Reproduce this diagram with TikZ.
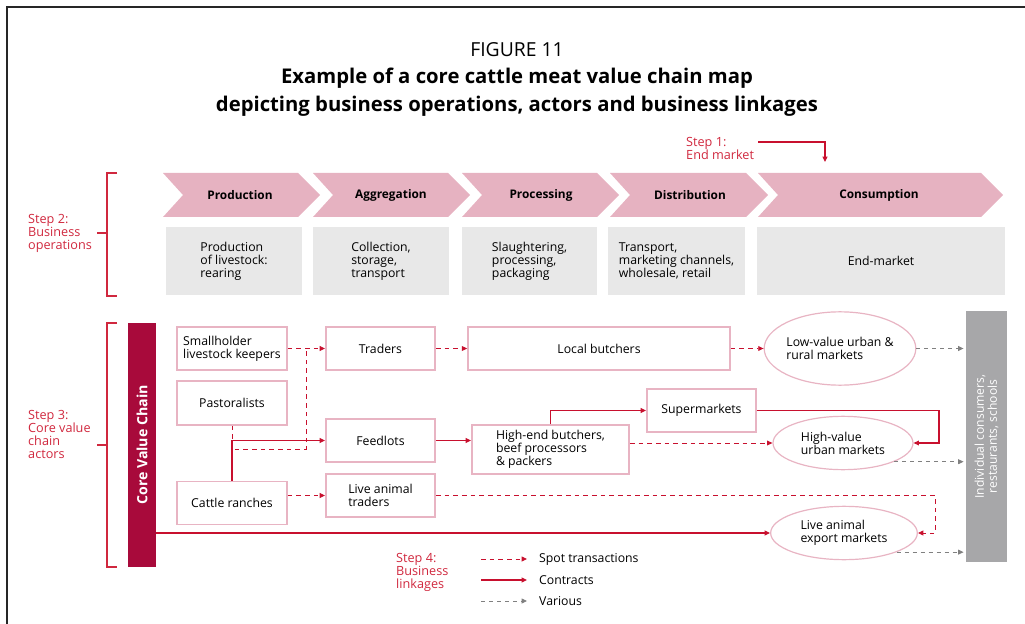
\documentclass[tikz,border=0pt]{standalone}
\usepackage{fontspec}
\setmainfont{Open Sans}
\usepackage[usenames,dvipsnames]{xcolor}
\usepackage{tikz}
\usetikzlibrary{arrows.meta,shapes.geometric}

\definecolor{linkred}{HTML}{C8102E}
\definecolor{steptext}{HTML}{D0283E}
\definecolor{actorpink}{HTML}{E8B4C3}
\definecolor{chevpink}{HTML}{E6B2C1}
\definecolor{opsgray}{HTML}{E8E8E8}
\definecolor{chainbar}{HTML}{A80A3B}
\definecolor{endgray}{HTML}{A7A7A9}

\tikzset{
  bodyfont/.style={font=\fontsize{9.2}{9.75}\selectfont},
  actor/.style={draw=actorpink, line width=1.2pt, fill=white, align=left, inner sep=0pt, bodyfont},
  market/.style={ellipse, draw=actorpink, line width=0.9pt, fill=white, align=left, inner sep=0pt, bodyfont},
  opbox/.style={fill=opsgray, align=left, inner sep=0pt, bodyfont},
  oplabel/.style={font=\fontsize{8.9}{10}\selectfont\bfseries},
  steplabel/.style={anchor=west, align=left, text=steptext, font=\fontsize{9.5}{9.75}\selectfont},
  bracket/.style={draw=steptext, line width=0.8pt},
  spot/.style={draw=linkred, line width=0.7pt, dash pattern=on 3.5pt off 3pt, -{Triangle[length=4pt,width=3.6pt]}},
  spotline/.style={draw=linkred, line width=0.7pt, dash pattern=on 3.5pt off 3pt},
  contract/.style={draw=linkred, line width=0.8pt, -{Triangle[length=4pt,width=3.6pt]}},
  various/.style={draw=gray, line width=0.7pt, dash pattern=on 3pt off 3pt, -{Triangle[length=4pt,width=3.6pt]}, shorten >=1.5pt},
}

\newcommand{\opchevron}[2]{\fill[chevpink] (#1,173) -- (#2-22,173) -- (#2,195) -- (#2-22,217) -- (#1,217) -- (#1+20,195) -- cycle;}

\begin{document}
\begin{tikzpicture}[x=0.75pt, y=-0.75pt]

\useasboundingbox (0,0) rectangle (1025,624);

% frame

\draw[line width=1.1pt, black!85] (7,624) -- (7,7) -- (1025,7);

% title

\node[font=\fontsize{14.5}{15}\selectfont] (figno) at (517,50) {FIGURE 11};
\node[font=\fontsize{15.2}{21}\selectfont\bfseries, align=center] (title) at (517,92) {Example of a core cattle meat value chain map\\depicting business operations, actors and business linkages};

% business operations

\opchevron{163}{320}
\opchevron{313}{470}
\opchevron{462}{619}
\opchevron{610}{768}
\opchevron{758}{1003}

\node[oplabel] (production) at (240,195) {Production};
\node[oplabel] (aggregation) at (391,195) {Aggregation};
\node[oplabel] (processing) at (541,195) {Processing};
\node[oplabel] (distribution) at (690,195) {Distribution};
\node[oplabel] (consumption) at (879,195) {Consumption};

\node[opbox, minimum width=102pt, minimum height=51pt] (rearing) at (234,261) {Production\\of livestock:\\rearing};
\node[opbox, minimum width=102pt, minimum height=51pt] (collection) at (381,261) {Collection,\\storage,\\transport};
\node[opbox, minimum width=101pt, minimum height=51pt] (slaughter) at (529.5,261) {Slaughtering,\\processing,\\packaging};
\node[opbox, minimum width=103pt, minimum height=51pt] (transport) at (676.5,261) {Transport,\\marketing channels,\\wholesale, retail};
\node[opbox, minimum width=186pt, minimum height=51pt] (endmarket) at (881,261) {End-market};

% steps

\node[steplabel] (step1) at (681.5,148.5) {Step 1:\\End market};
\node[steplabel] (step2) at (23.5,233) {Step 2:\\Business\\operations};
\node[steplabel] (step3) at (23.5,434) {Step 3:\\Core value\\chain\\actors};
\node[steplabel] (step4) at (391.5,572) {Step 4:\\Business\\linkages};

\coordinate (s1start) at (758,142);
\coordinate (s1end) at (825,162);
\draw[contract] (s1start) -| (s1end);

\draw[bracket] (117,173) -- (107,173) -- (107,296) -- (117,296);
\draw[bracket] (97,233) -- (107,233);
\draw[bracket] (117,323) -- (107,323) -- (107,567) -- (117,567);
\draw[bracket] (97,445) -- (107,445);

% side bars

\node[fill=chainbar, text=white, rotate=90, minimum width=183pt, minimum height=21pt, inner sep=0pt, font=\fontsize{10.6}{11}\selectfont\bfseries] (chain) at (142,445) {Core Value Chain};
\node[fill=endgray, text=white, rotate=90, minimum width=188pt, minimum height=31pt, inner sep=0pt, align=center, font=\fontsize{9.1}{9.75}\selectfont] (consumers) at (986.5,436.5) {Individual consumers,\\restaurants, schools};

% actors

\node[actor, minimum width=82.5pt, minimum height=32pt] (smallholder) at (232,348.5) {Smallholder\\livestock keepers};
\node[actor, minimum width=82.5pt, minimum height=33pt] (pastoralists) at (232,403) {Pastoralists};
\node[actor, minimum width=82.5pt, minimum height=32pt] (ranches) at (232,503) {Cattle ranches};

\node[actor, minimum width=82pt, minimum height=32pt] (traders) at (380.5,348.5) {Traders};
\node[actor, minimum width=82pt, minimum height=32pt] (feedlots) at (380.5,440.5) {Feedlots};
\node[actor, minimum width=82pt, minimum height=32pt] (livetraders) at (380.5,495.5) {Live animal\\traders};

\node[actor, minimum width=196.5pt, minimum height=32pt] (butchers) at (599,348.5) {Local butchers};
\node[actor, minimum width=118pt, minimum height=37pt] (highend) at (550.5,449.5) {High-end butchers,\\beef processors\\\& packers};
\node[actor, minimum width=82pt, minimum height=32pt] (supermarkets) at (701.5,410.5) {Supermarkets};

% markets

\node[market, minimum width=111pt, minimum height=55pt] (lowvalue) at (840,348.5) {Low-value urban \&\\rural markets};
\node[market, minimum width=105pt, minimum height=40pt] (highvalue) at (843,443) {High-value\\urban markets};
\node[market, minimum width=110pt, minimum height=40pt] (export) at (844,533) {Live animal\\export markets};

% linkages

\coordinate (pjoin) at (306,449);
\coordinate (sjoin) at (939,410.5);
\coordinate (ljoin) at (935,495.5);

\draw[spot] (smallholder.east) -- (traders.west);
\draw[spotline] (pastoralists.south) |- (pjoin) -- (pjoin |- smallholder.east);
\draw[contract] (ranches.north) |- (feedlots.west);
\draw[spot] (ranches.east |- livetraders.west) -- (livetraders.west);

\draw[spot] (traders.east) -- (butchers.west);
\draw[spot] (butchers.east) -- (lowvalue.west);
\draw[contract] (feedlots.east) -- (feedlots.east -| highend.west);
\draw[contract] (highend.north) |- (supermarkets.west);
\draw[spot] (highend.east |- highvalue.west) -- (highvalue.west);
\draw[contract] (supermarkets.east) -- (sjoin) |- (highvalue.east);
\draw[spot] (livetraders.east) -- (ljoin) |- (export.east);
\draw[contract] (chain.south |- export.west) -- (export.west);

\draw[various] (lowvalue.east) -- (lowvalue.east -| consumers.north);
\draw[various] (highvalue.-20) -- (highvalue.-20 -| consumers.north);
\draw[various] (export.-20) -- (export.-20 -| consumers.north);

% legend

\coordinate (lg1a) at (481,559);
\coordinate (lg1b) at (527,559);
\coordinate (lg2a) at (481,580);
\coordinate (lg2b) at (527,580);
\coordinate (lg3a) at (481,601);
\coordinate (lg3b) at (527,601);

\draw[spot] (lg1a) -- (lg1b);
\draw[contract] (lg2a) -- (lg2b);
\draw[various, shorten >=0pt] (lg3a) -- (lg3b);

\node[anchor=west, bodyfont] (spotlab) at (534.5,559) {Spot transactions};
\node[anchor=west, bodyfont] (contractlab) at (534.5,580) {Contracts};
\node[anchor=west, bodyfont] (variouslab) at (534.5,601) {Various};

\end{tikzpicture}
\end{document}
